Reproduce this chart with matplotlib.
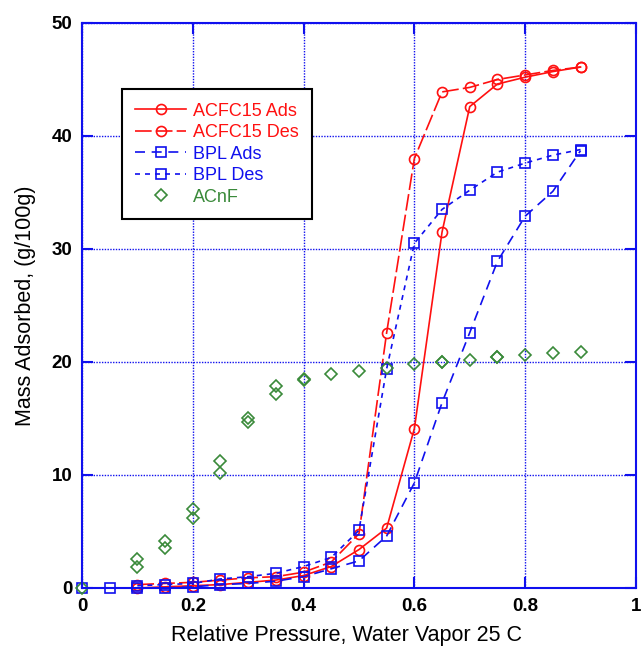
import matplotlib.pyplot as plt

# relative pressure points
acfc_x = [0.1, 0.15, 0.2, 0.25, 0.3, 0.35, 0.4, 0.45, 0.5, 0.55, 0.6, 0.65, 0.7, 0.75, 0.8, 0.85, 0.9]
acfc_ads = [0.0, 0.1, 0.2, 0.3, 0.5, 0.7, 1.1, 1.9, 3.4, 5.3, 14.1, 31.5, 42.6, 44.6, 45.2, 45.7, 46.1]
acfc_des = [0.3, 0.4, 0.5, 0.7, 0.9, 1.0, 1.4, 2.3, 4.8, 22.6, 38.0, 43.9, 44.3, 45.0, 45.4, 45.8, 46.1]

bpl_ads_x = [0.0, 0.05, 0.1, 0.15, 0.2, 0.25, 0.3, 0.35, 0.4, 0.45, 0.5, 0.55, 0.6, 0.65, 0.7, 0.75, 0.8, 0.85, 0.9]
bpl_ads = [0.0, 0.0, 0.0, 0.0, 0.1, 0.3, 0.4, 0.6, 1.0, 1.7, 2.4, 4.6, 9.3, 16.4, 22.6, 28.9, 32.9, 35.1, 38.7]
bpl_des_x = [0.1, 0.15, 0.2, 0.25, 0.3, 0.35, 0.4, 0.45, 0.5, 0.55, 0.6, 0.65, 0.7, 0.75, 0.8, 0.85, 0.9]
bpl_des = [0.2, 0.3, 0.4, 0.8, 1.0, 1.3, 1.9, 2.7, 5.1, 19.4, 30.5, 33.5, 35.2, 36.8, 37.6, 38.3, 38.8]

acnf_x = [0.0, 0.1, 0.1, 0.15, 0.15, 0.2, 0.2, 0.25, 0.25, 0.3, 0.3, 0.35, 0.35, 0.4, 0.4,
          0.45, 0.5, 0.55, 0.6, 0.65, 0.65, 0.7, 0.75, 0.75, 0.8, 0.85, 0.9]
acnf_y = [0.0, 2.6, 1.9, 4.2, 3.5, 7.0, 6.2, 11.2, 10.2, 15.0, 14.7, 17.9, 17.2, 18.4, 18.5,
          18.9, 19.2, 19.5, 19.8, 20.0, 20.0, 20.2, 20.4, 20.4, 20.6, 20.8, 20.9]

x_ticks = [0, 0.2, 0.4, 0.6, 0.8, 1]
x_ticklabels = ['0', '0.2', '0.4', '0.6', '0.8', '1']
y_ticks = [0, 10, 20, 30, 40, 50]

red = '#ff1010'
blue = '#1010ee'
green = '#3a8a3a'

plt.rcParams['font.family'] = ['Liberation Sans', 'DejaVu Sans']

fig = plt.figure(figsize=(6.43, 6.51), dpi=100)
ax = fig.add_axes([0.1275, 0.0968, 0.8615, 0.8679])

mk = dict(markerfacecolor='none', markersize=7.2, markeredgewidth=1.2, clip_on=False, linewidth=1.2)
ax.plot(acfc_x, acfc_ads, color=red, marker='o', linestyle='-', label='ACFC15 Ads', **mk)
ax.plot(acfc_x, acfc_des, color=red, marker='o', linestyle=(0, (10, 2.5)), label='ACFC15 Des', **mk)
ax.plot(bpl_ads_x, bpl_ads, color=blue, marker='s', linestyle=(0, (6, 4)), label='BPL Ads', **mk)
ax.plot(bpl_des_x, bpl_des, color=blue, marker='s', linestyle=(0, (3, 3)), label='BPL Des', **mk)
ax.plot(acnf_x, acnf_y, color=green, marker='D', linestyle='none', markerfacecolor='none',
        markersize=6, markeredgewidth=1.2, clip_on=False, label='ACnF')

ax.set_xlim(0, 1)
ax.set_ylim(0, 50)
ax.set_xticks(x_ticks)
ax.set_xticklabels(x_ticklabels)
ax.set_yticks(y_ticks)

for s in ax.spines.values():
    s.set_color(blue)
    s.set_linewidth(1.5)
ax.tick_params(direction='in', length=8, width=1.5, color=blue, top=True, right=True,
               labelsize=13.5, pad=7)
for lab in ax.get_xticklabels() + ax.get_yticklabels():
    lab.set_fontweight('bold')
ax.grid(True, color=blue, linestyle=(0, (1, 1)), linewidth=1)

ax.set_xlabel('Relative Pressure, Water Vapor 25 C', fontsize=15.5, labelpad=9)
ax.xaxis.set_label_coords(0.477, -0.065)
ax.set_ylabel('Mass Adsorbed, (g/100g)', fontsize=15.5, labelpad=11)

leg = ax.legend(loc='upper left', bbox_to_anchor=(0.072, 0.883), borderaxespad=0,
                fontsize=13, handlelength=2.8, handletextpad=0.4, labelspacing=0.25,
                fancybox=False, framealpha=1, edgecolor='black', borderpad=0.75)
leg.get_frame().set_linewidth(1.5)
for t, c in zip(leg.get_texts(), [red, red, blue, blue, green]):
    t.set_color(c)

fig.savefig('out.png', dpi=100)
